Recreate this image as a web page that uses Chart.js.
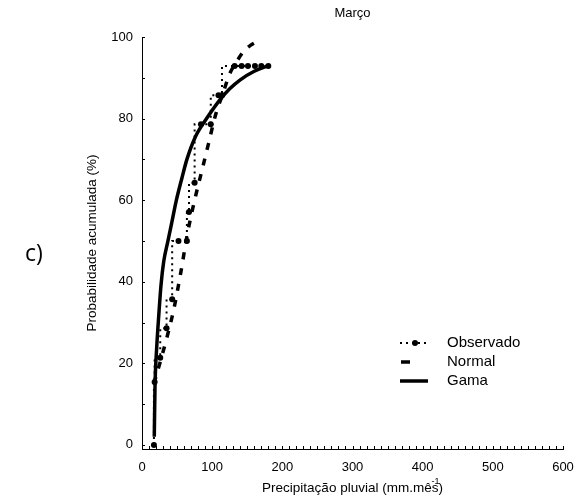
<!DOCTYPE html>
<html>
<head>
<meta charset="utf-8">
<script src="https://cdn.jsdelivr.net/npm/chart.js@4.4.1/dist/chart.umd.min.js"></script>
<style>
    html, body { margin: 0; padding: 0; background: #fff; }
    #wrap { position: relative; width: 577px; height: 504px; }
    #tag { position: absolute; left: 25px; top: 236px; font: 23px "Open Sans", "Noto Sans", sans-serif; color: #000; }
</style>
</head>
<body>
<div id="wrap">
    <canvas id="chart_marco" width="577" height="504"></canvas>
    <div id="tag">c)</div>
</div>
<script>
// valores
var obs_x = [17, 18, 26, 35, 43, 52, 64, 67, 75, 84, 98, 109, 114, 132, 142, 151, 161, 170, 180]
var obs_y = [0, 15.4, 21.4, 28.6, 35.7, 50, 50, 57.1, 64.3, 78.6, 78.6, 85.7, 85.7, 92.9, 92.9, 92.9, 92.9, 92.9, 92.9]

var normal_x = [17, 27, 35, 45, 55, 65, 75, 85, 95, 105, 115, 125, 135, 145, 155, 165]
var normal_y = [15, 21, 26, 33, 42, 52, 60, 67, 74, 81, 86, 91, 94, 96.5, 98, 99]

var gama_x = [17.5, 18.5, 21, 24, 27, 31, 37, 43, 49, 57, 64, 76, 92, 111, 125, 140, 160, 180]
var gama_y = [2, 14, 24, 32, 39, 45, 50, 55, 60, 65.5, 70, 75.5, 80, 84.6, 87.3, 89.5, 91.6, 93]

var x_ticks = [0, 100, 200, 300, 400, 500, 600]
var y_ticks = [0, 20, 40, 60, 80, 100]

var titulo = 'Março'
var titulo_x = 'Precipitação pluvial (mm.mês'
var titulo_y = 'Probabilidade acumulada (%)'
var legendas = ['Observado', 'Normal', 'Gama']

function pares(xs, ys) {
    return xs.map((x, i) => {
        return { x: x, y: ys[i] }
    })
}

var font_name = '"Liberation Sans", Arial, sans-serif'

var extras = {
    id: 'extras',
    afterDraw: function (chart) {
        var ctx = chart.ctx
        var xs = chart.scales.x
        var ys = chart.scales.y
        var area = chart.chartArea
        ctx.save()
        ctx.strokeStyle = '#000'
        ctx.lineWidth = 1
        // marcas internas
        ctx.beginPath()
        for (var v = 0; v <= 600; v += 10) {
            var px = Math.round(xs.getPixelForValue(v)) + 0.5
            ctx.moveTo(px, area.bottom)
            ctx.lineTo(px, area.bottom - 3)
        }
        for (var w = 0; w <= 100; w += 10) {
            var py = Math.round(ys.getPixelForValue(w)) + 0.5
            ctx.moveTo(area.left, py)
            ctx.lineTo(area.left + 3, py)
        }
        ctx.stroke()

        ctx.fillStyle = '#000'
        ctx.textAlign = 'center'
        ctx.textBaseline = 'middle'
        ctx.font = '13px ' + font_name
        var cx = (area.left + area.right) / 2
        ctx.fillText(titulo, cx, 13)

        // título do eixo x com expoente
        ctx.font = '13.5px ' + font_name
        var w1 = ctx.measureText(titulo_x).width
        var w2 = ctx.measureText(')').width
        var x0 = cx - (w1 + w2) / 2
        ctx.textAlign = 'left'
        ctx.fillText(titulo_x, x0, 488)
        ctx.fillText(')', x0 + w1, 488)
        ctx.font = '9px ' + font_name
        ctx.fillText('-1', x0 + w1 - 7, 482)

        ctx.save()
        ctx.font = '13.5px ' + font_name
        ctx.textAlign = 'center'
        ctx.translate(92, (area.top + area.bottom) / 2)
        ctx.rotate(-Math.PI / 2)
        ctx.fillText(titulo_y, 0, 0)
        ctx.restore()

        // legenda
        var lx = 400
        var rows = [343, 362, 381]
        ctx.font = '15px ' + font_name
        ctx.textAlign = 'left'
        for (var i = 0; i < legendas.length; i++) {
            ctx.fillText(legendas[i], 447, rows[i])
        }
        ctx.beginPath()
        ctx.lineWidth = 2
        ctx.setLineDash([2, 4])
        ctx.moveTo(lx, rows[0])
        ctx.lineTo(lx + 28, rows[0])
        ctx.stroke()
        ctx.setLineDash([])
        ctx.beginPath()
        ctx.arc(lx + 15, rows[0], 3, 0, Math.PI * 2)
        ctx.fill()
        ctx.beginPath()
        ctx.lineWidth = 3.5
        ctx.moveTo(lx + 1, rows[1])
        ctx.lineTo(lx + 10, rows[1])
        ctx.stroke()
        ctx.beginPath()
        ctx.moveTo(lx, rows[2])
        ctx.lineTo(lx + 28, rows[2])
        ctx.stroke()
        ctx.restore()
    }
}

var chart_marco = new Chart(document.getElementById('chart_marco'), {
    type: 'line',
    data: {
        datasets: [
            {
                label: legendas[0],
                data: pares(obs_x, obs_y),
                borderColor: '#000',
                backgroundColor: '#000',
                borderWidth: 2,
                borderDash: [2, 4],
                stepped: 'after',
                pointRadius: 3,
                pointBorderWidth: 0,
                fill: false
            },
            {
                label: legendas[1],
                data: pares(normal_x, normal_y),
                borderColor: '#000',
                borderWidth: 3.5,
                borderDash: [7, 9],
                cubicInterpolationMode: 'monotone',
                pointRadius: 0,
                fill: false
            },
            {
                label: legendas[2],
                data: pares(gama_x, gama_y),
                borderColor: '#000',
                borderWidth: 3.5,
                cubicInterpolationMode: 'monotone',
                pointRadius: 0,
                fill: false
            }
        ]
    },
    options: {
        responsive: false,
        animation: false,
        layout: {
            padding: { top: 37, right: 14, left: 0, bottom: 0 }
        },
        plugins: {
            legend: { display: false },
            title: { display: false },
            tooltip: { enabled: false }
        },
        scales: {
            x: {
                type: 'linear',
                min: 0,
                max: 600,
                afterFit: function (scale) {
                    scale.height = 55
                    scale.paddingLeft = 0
                    scale.paddingRight = 0
                },
                afterBuildTicks: function (scale) {
                    scale.ticks = x_ticks.map((v) => {
                        return { value: v }
                    })
                },
                grid: { drawOnChartArea: false, drawTicks: false },
                border: { color: '#000', width: 1 },
                ticks: {
                    color: '#000',
                    padding: 11,
                    maxRotation: 0,
                    font: { size: 13, family: font_name }
                }
            },
            y: {
                type: 'linear',
                min: -1,
                max: 100,
                afterFit: function (scale) {
                    scale.width = 142
                    scale.paddingTop = 0
                    scale.paddingBottom = 0
                },
                afterBuildTicks: function (scale) {
                    scale.ticks = y_ticks.map((v) => {
                        return { value: v }
                    })
                },
                grid: { drawOnChartArea: false, drawTicks: false },
                border: { color: '#000', width: 1 },
                ticks: {
                    color: '#000',
                    padding: 9,
                    font: { size: 13, family: font_name }
                }
            }
        }
    },
    plugins: [extras]
})
</script>
</body>
</html>
